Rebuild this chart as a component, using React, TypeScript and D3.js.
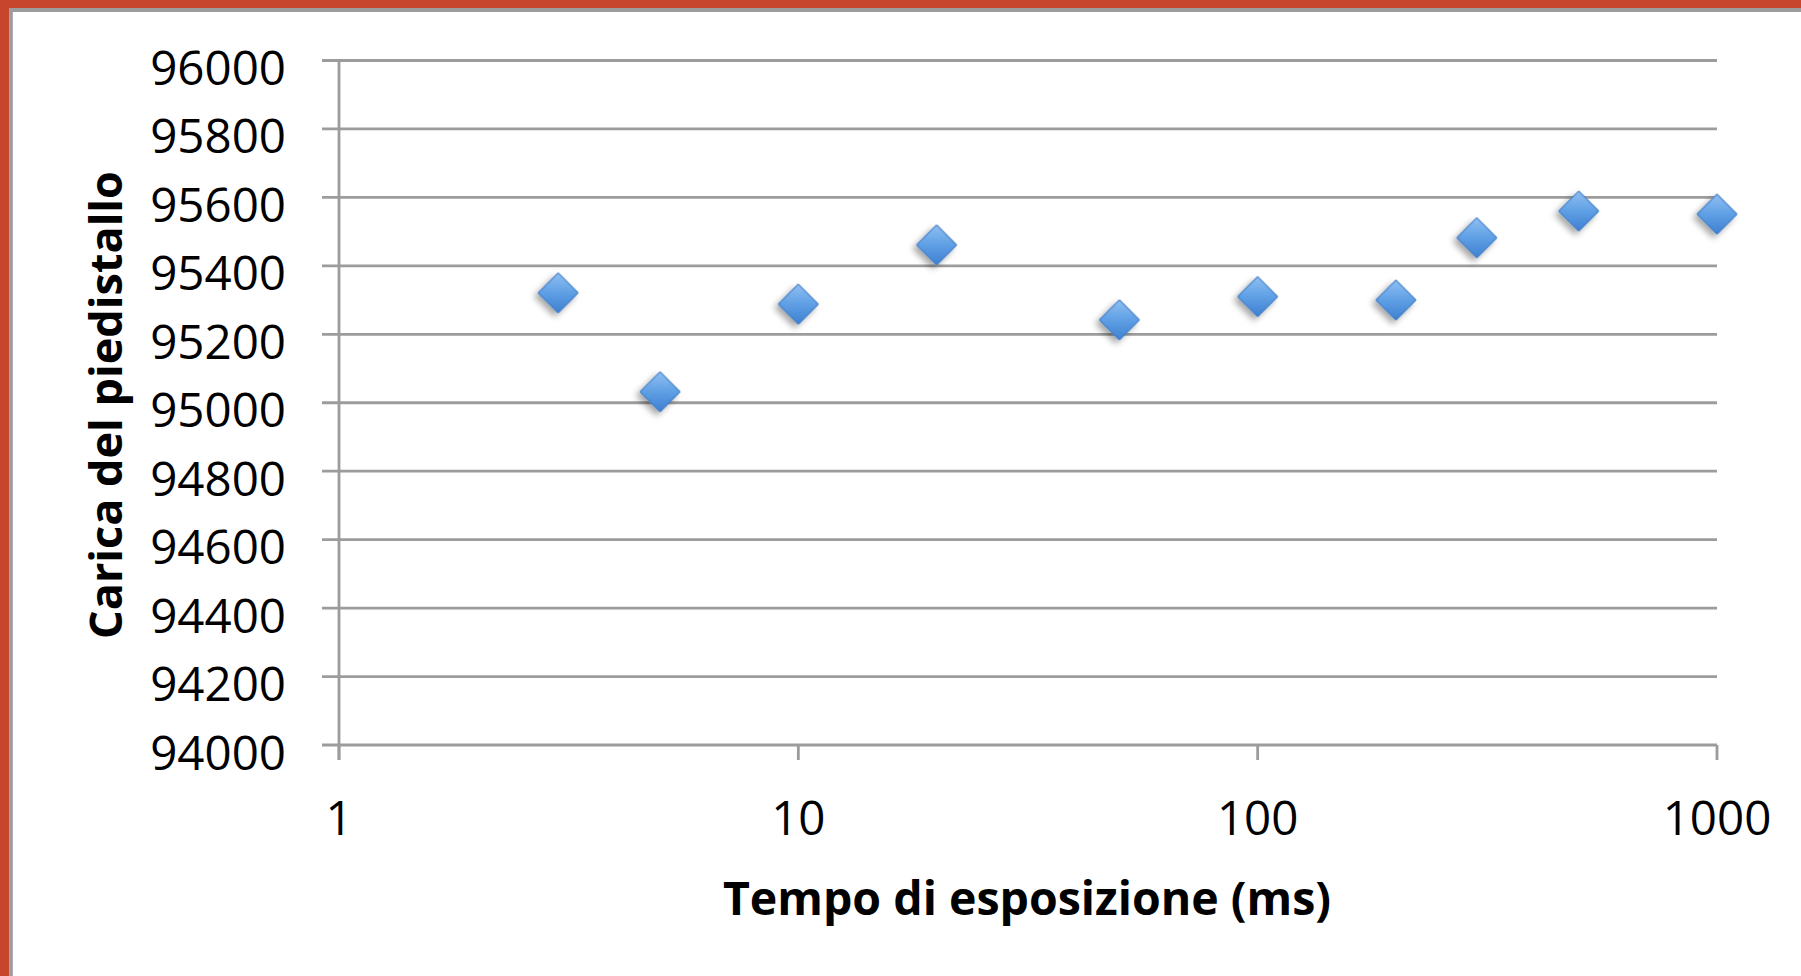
import React from "react";
import * as d3 from "d3";

const exposureMs = [3, 5, 10, 20, 50, 100, 200, 300, 500, 1000];
const pedestalCharge = [95321, 95032, 95288, 95461, 95242, 95310, 95300, 95482, 95560, 95551];
const yTicks = [94000, 94200, 94400, 94600, 94800, 95000, 95200, 95400, 95600, 95800, 96000];
const xTicks = [1, 10, 100, 1000];
const xTitle = "Tempo di esposizione (ms)";
const yTitle = "Carica del piedistallo";

const W = 1801;
const H = 976;
const FONT = "'Open Sans', 'Liberation Sans', sans-serif";
const GRID = "#9c9c9c";

export default function App() {
  const x = d3.scaleLog().domain([1, 1000]).range([339, 1717]);
  const y = d3.scaleLinear().domain([94000, 96000]).range([745, 60.5]);
  const diamond = d3.symbol(d3.symbolSquare, 800)() as string;

  return (
    <svg
      width={W}
      height={H}
      style={{ position: "fixed", left: 0, top: 0, display: "block", background: "#fff" }}
    >
      <defs>
        <linearGradient id="mk" x1="0" y1="0" x2="1" y2="1">
          <stop offset="0%" stopColor="#8fc0f2" />
          <stop offset="50%" stopColor="#5f9fe4" />
          <stop offset="100%" stopColor="#3f80d2" />
        </linearGradient>
        <filter id="sh" x="-50%" y="-50%" width="200%" height="200%">
          <feDropShadow dx="0" dy="5" stdDeviation="3" floodColor="#000" floodOpacity="0.35" />
        </filter>
      </defs>
      <rect x={0} y={0} width={W} height={H} fill="#fff" />
      {/* frame */}
      <rect x={0} y={0} width={W} height={8} fill="#c8452d" />
      <rect x={0} y={0} width={9.5} height={H} fill="#c8452d" />
      <rect x={9.5} y={8} width={W} height={4} fill="#9c9c9c" />
      <rect x={9.5} y={8} width={3.3} height={H} fill="#9c9c9c" />

      {/* gridlines & y ticks */}
      {yTicks.map((t) => (
        <g key={t}>
          <line x1={322} x2={x(1000)} y1={y(t)} y2={y(t)} stroke={GRID} strokeWidth={2.8} />
          <text
            x={286}
            y={y(t) + 24.5}
            textAnchor="end"
            fontFamily={FONT}
            fontSize={47.5}
            fill="#000"
          >
            {t}
          </text>
        </g>
      ))}
      {/* y axis line */}
      <line x1={x(1)} x2={x(1)} y1={y(96000)} y2={760} stroke={GRID} strokeWidth={2.8} />
      {/* x ticks */}
      {xTicks.map((t) => (
        <g key={t}>
          <line x1={x(t)} x2={x(t)} y1={y(94000)} y2={760} stroke={GRID} strokeWidth={2.8} />
          <text
            x={x(t)}
            y={835}
            textAnchor="middle"
            fontFamily={FONT}
            fontSize={47.5}
            fill="#000"
          >
            {t}
          </text>
        </g>
      ))}

      {/* markers */}
      {exposureMs.map((v, i) => (
        <path
          key={i}
          d={diamond}
          transform={`translate(${x(v)},${y(pedestalCharge[i])}) rotate(45)`}
          fill="url(#mk)"
          stroke="#3c78c2"
          strokeWidth={1}
          filter="url(#sh)"
        />
      ))}

      {/* axis titles */}
      <text
        x={1027}
        y={915}
        textAnchor="middle"
        fontFamily={FONT}
        fontWeight={700}
        fontSize={46.5}
        fill="#000"
      >
        {xTitle}
      </text>
      <text
        transform={`translate(122,405) rotate(-90)`}
        textAnchor="middle"
        fontFamily={FONT}
        fontWeight={700}
        fontSize={45}
        fill="#000"
      >
        {yTitle}
      </text>
    </svg>
  );
}
